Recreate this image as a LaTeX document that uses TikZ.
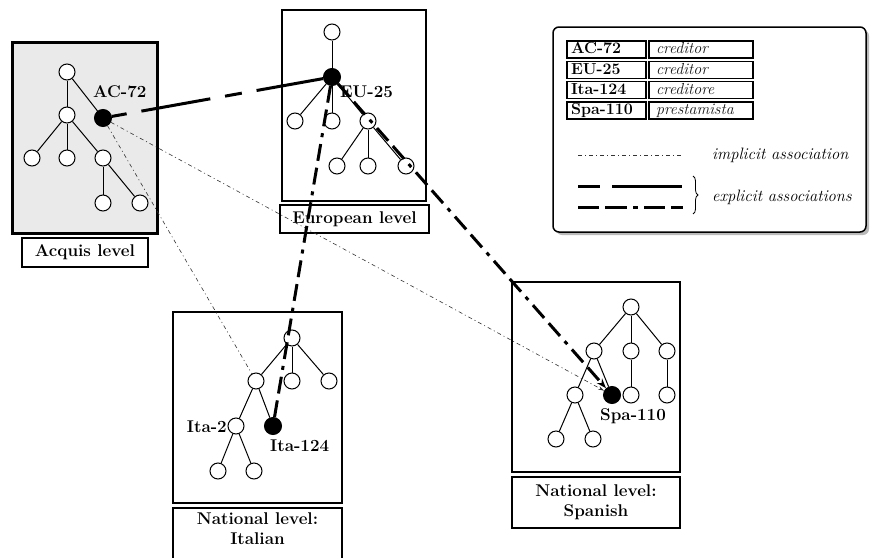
\documentclass[tikz,border=0pt]{standalone}
\usetikzlibrary{arrows.meta,shadows,decorations.pathreplacing}
\newcommand\lblf{\fontsize{17}{20}\selectfont\bfseries}
\newcommand\lgbf{\fontsize{16}{19}\selectfont\bfseries}
\newcommand\lgit{\fontsize{16}{19}\selectfont\itshape}
\newcommand\lgtx{\fontsize{16.5}{20}\selectfont\itshape}
\definecolor{acqgray}{RGB}{234,234,234}
\definecolor{itgray}{RGB}{25,25,25}
\begin{document}
\begin{tikzpicture}[x=1pt,y=-1pt,
  tn/.style={circle,draw,fill=white,line width=1pt,minimum size=16pt,inner sep=0pt},
  bn/.style={circle,draw,fill=black,line width=1pt,minimum size=17pt,inner sep=0pt},
  te/.style={line width=1pt},
  lvlbox/.style={draw,line width=1.5pt,inner sep=0pt},
  lvllbl/.style={draw,line width=1.6pt,inner sep=0pt,font=\lblf,align=center},
  tlbl/.style={font=\lblf,inner sep=0pt},
  expdash/.style={line width=3pt,dash pattern=on 17pt off 15pt on 70pt off 15pt,dash phase=2pt},
  expdd/.style={line width=3pt,dash pattern=on 17pt off 7pt on 17pt off 7pt on 4pt off 7pt},
  impl/.style={line width=0.6pt,black!80,dash pattern=on 4pt off 3pt on 1pt off 3pt},
  cellL/.style={draw,line width=1.4pt,minimum width=79pt,minimum height=17pt,inner sep=0pt,
     text width=71pt,align=left,text height=11pt,text depth=3pt,font=\lgbf},
  cellR/.style={draw,line width=1.4pt,minimum width=104pt,minimum height=17pt,inner sep=0pt,
     text width=90pt,align=left,text height=11pt,text depth=3pt,font=\lgit,text=itgray},
]
\useasboundingbox (0,0) rectangle (870,557);

% ---------- level boxes ----------
\node[lvlbox,line width=3pt,fill=acqgray,minimum width=145pt,minimum height=191pt] (acqbox) at (84.5,137.5) {};
\node[lvllbl,line width=2.6pt,minimum width=126pt,minimum height=29pt] (acqlbl) at (85,252.5) {Acquis level};

\node[lvlbox,minimum width=144pt,minimum height=191pt] (eubox) at (354,105.5) {};
\node[lvllbl,minimum width=149pt,minimum height=28pt] (eulbl) at (354.5,219) {European level};

\node[lvlbox,minimum width=169pt,minimum height=191pt] (itbox) at (257.5,407.5) {};
\node[lvllbl,minimum width=169pt,minimum height=58pt] (itlblbox) at (257.5,537) {};
\node[font=\lblf,align=center,inner sep=0pt] (itlbl) at (257.5,529) {National level:\\Italian};

\node[lvlbox,minimum width=168pt,minimum height=190pt] (esbox) at (596,377) {};
\node[lvllbl,minimum width=168pt,minimum height=51pt] (eslbl) at (596,502.5) {National level:\\Spanish};

% ---------- Acquis tree ----------
\node[tn] (a0) at (67,72) {};
\node[tn] (a1) at (67,115) {};
\node[bn] (ac) at (103,118) {};
\node[tn] (a2) at (32,158) {};
\node[tn] (a3) at (67,158) {};
\node[tn] (a4) at (103,158) {};
\node[tn] (a5) at (103,203) {};
\node[tn] (a6) at (140,203) {};
\foreach \u/\v in {a0/a1,a0/ac,a1/a2,a1/a3,a1/a4,a4/a5,a4/a6} \draw[te] (\u) -- (\v);
\node[tlbl,anchor=base west] (aclbl) at (93,97) {AC-72};

% ---------- European tree ----------
\node[tn] (e0) at (332,32) {};
\node[bn] (eu) at (332,77) {};
\node[tn] (e1) at (295,121) {};
\node[tn] (e2) at (332,121) {};
\node[tn] (e3) at (368,121) {};
\node[tn] (e4) at (337,166) {};
\node[tn] (e5) at (368,166) {};
\node[tn] (e6) at (406,166) {};
\foreach \u/\v in {e0/eu,eu/e1,eu/e2,eu/e3,e3/e4,e3/e5,e3/e6} \draw[te] (\u) -- (\v);
\node[tlbl,anchor=base west] (eulb) at (340,97) {EU-25};

% ---------- Italian tree ----------
\node[tn] (i0) at (292,338) {};
\node[tn] (i1) at (256,381) {};
\node[tn] (i2) at (292,381) {};
\node[tn] (i3) at (329,381) {};
\node[tn] (ita2) at (236,426) {};
\node[bn] (ita124) at (273,426) {};
\node[tn] (i4) at (218,471) {};
\node[tn] (i5) at (254,471) {};
\foreach \u/\v in {i0/i1,i0/i2,i0/i3,i1/ita2,i1/ita124,ita2/i4,ita2/i5} \draw[te] (\u) -- (\v);
\node[tlbl,anchor=base east] (ita2lbl) at (227,432) {Ita-2};
\node[tlbl,anchor=base west] (ita124lbl) at (270,451) {Ita-124};

% ---------- Spanish tree ----------
\node[tn] (s0) at (631,307) {};
\node[tn] (s1) at (594,351) {};
\node[tn] (s2) at (631,351) {};
\node[tn] (s3) at (667,351) {};
\node[tn] (s4) at (575,395) {};
\node[bn] (spa) at (612,395) {};
\node[tn] (s5) at (631,395) {};
\node[tn] (s6) at (667,395) {};
\node[tn] (s7) at (556,439) {};
\node[tn] (s8) at (593,439) {};
\foreach \u/\v in {s0/s1,s0/s2,s0/s3,s1/s4,s1/spa,s2/s5,s3/s6,s4/s7,s4/s8} \draw[te] (\u) -- (\v);
\node[tlbl,anchor=base west] (spalbl) at (600,420) {Spa-110};

% ---------- associations ----------
\draw[impl] (ac) -- (i1);
\draw[impl,-{Stealth[length=6pt,width=3.5pt]}] (ac) -- (spa);
\draw[expdash] (ac) -- (eu);
\draw[expdd] (eu) -- (ita124);
\draw[expdd,-{Stealth[length=10pt,width=7pt]}] (eu) -- (spa);

% ---------- legend ----------
\node[draw,line width=1.5pt,rounded corners=6pt,fill=white,minimum width=313pt,minimum height=205pt,
      drop shadow={shadow xshift=3pt,shadow yshift=-3pt,fill=black!45,opacity=0.6}] (legend) at (709.5,129.5) {};

\node[cellL] (k1) at (606.5,49.5) {AC-72};
\node[cellR] (v1) at (701,49.5) {creditor};
\node[cellL] (k2) at (606.5,70) {EU-25};
\node[cellR] (v2) at (701,70) {creditor};
\node[cellL] (k3) at (606.5,90.2) {Ita-124};
\node[cellR] (v3) at (701,90.2) {creditore};
\node[cellL] (k4) at (606.5,110.5) {Spa-110};
\node[cellR] (v4) at (701,110.5) {prestamista};

\coordinate (ia) at (578,155);
\coordinate (ib) at (682,155);
\draw[impl] (ia) -- (ib);
\node[font=\lgtx,anchor=west,inner sep=0pt] (impltxt) at (712,155) {implicit association};

\coordinate (ea) at (578,186);
\coordinate (eb) at (682,186);
\draw[line width=3pt,dash pattern=on 22pt off 12pt on 70pt off 12pt] (ea) -- (eb);
\coordinate (ec) at (578,207);
\coordinate (ed) at (683,207);
\draw[line width=3pt,dash pattern=on 21pt off 6pt on 22pt off 6pt on 5pt off 6pt] (ec) -- (ed);

\coordinate (ba) at (693,176);
\coordinate (bb) at (693,214);
\draw[line width=0.8pt,decorate,decoration={brace,amplitude=5pt}] (ba) -- (bb);
\node[font=\lgtx,anchor=west,inner sep=0pt] (expltxt) at (712,197) {explicit associations};
\end{tikzpicture}
\end{document}
